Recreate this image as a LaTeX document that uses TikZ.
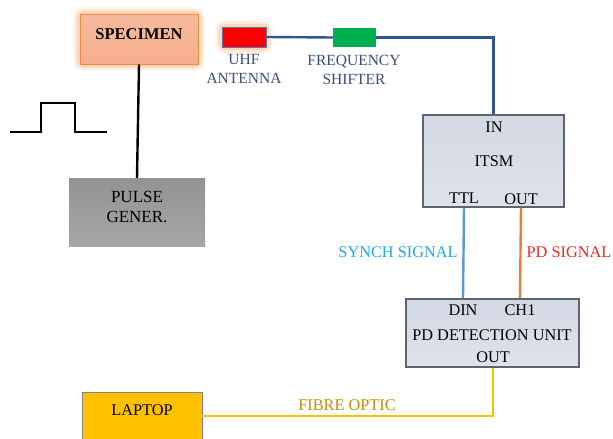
\documentclass[tikz,border=0pt]{standalone}
\usepackage{fontspec}
\setmainfont{Liberation Serif}
\usetikzlibrary{calc}
\definecolor{specfill}{HTML}{F5AE8C}
\definecolor{specedge}{HTML}{F08A3C}
\definecolor{glow}{HTML}{F9A35B}
\definecolor{navy}{HTML}{2F5597}
\definecolor{lblue}{HTML}{5B9BD5}
\definecolor{sorange}{HTML}{ED7D31}
\definecolor{syellow}{HTML}{FFC000}
\definecolor{antcol}{HTML}{3A4E7E}
\definecolor{synchc}{HTML}{1EAAE7}
\definecolor{pdc}{HTML}{F0281E}
\definecolor{fibrec}{HTML}{BF9000}
\definecolor{boxedge}{HTML}{5F6470}
\definecolor{unittop}{HTML}{D3D9E4}
\definecolor{unitmid}{HTML}{F1F3F7}
\definecolor{unitbot}{HTML}{DDE2EB}
\tikzset{
  lbl/.style={font=\fontsize{16.3}{18}\selectfont, text=black, inner sep=0pt},
  unit/.style={draw=boxedge, line width=1.6pt, inner sep=0pt, top color=unittop, middle color=unitmid, bottom color=unitbot},
  wire/.style={line width=2.4pt},
}
\begin{document}
\begin{tikzpicture}[x=1pt,y=-1pt]
\clip (0,0) rectangle (613,439);
\fill[white] (0,0) rectangle (613,439);
% glows
\foreach \w/\o in {14/0.10,10/0.15,6/0.25}{
  \draw[glow, line width=\w pt, opacity=\o, rounded corners=4pt] (80,14) rectangle (198,64);
  \draw[glow, line width=\w pt, opacity=\o, rounded corners=3pt] (222,27) rectangle (266,47);
}
% boxes
\node[draw=specedge, line width=1pt, minimum width=118pt, minimum height=50pt, inner sep=0pt,
      top color=specfill!85!white, bottom color=specfill] (spec) at (139,39) {};
\node[lbl, font=\fontsize{16.5}{18}\bfseries\selectfont] (spect) at (139,34) {SPECIMEN};
\node[minimum width=136pt, minimum height=68pt, inner sep=0pt, top color=gray!85, bottom color=gray!70] (pulse) at (137,212) {};
\node[lbl, align=center, font=\fontsize{17}{20}\selectfont] (pulset) at (137,207) {PULSE\\GENER.};
\node[draw=navy!80, line width=0.6pt, fill=red, minimum width=44pt, minimum height=20pt, inner sep=0pt] (ant) at (244,37) {};
\node[fill={rgb,255:red,0;green,176;blue,80}, minimum width=43pt, minimum height=19pt, inner sep=0pt] (shift) at (354.5,37.5) {};
\node[lbl, text=antcol, align=center, font=\fontsize{15.5}{19}\selectfont] (antt) at (244,69) {UHF\\ANTENNA};
\node[lbl, text=antcol, align=center, font=\fontsize{15.5}{19}\selectfont] (shiftt) at (354,70) {FREQUENCY\\SHIFTER};
\node[unit, minimum width=141pt, minimum height=92pt] (itsm) at (493.5,161) {};
\node[lbl] (in) at (494,127) {IN};
\node[lbl] (itsmt) at (494,161) {ITSM};
\node[lbl] (ttl) at (464,198) {TTL};
\node[lbl] (out1) at (521,199) {OUT};
\node[unit, minimum width=173pt, minimum height=68pt] (pd) at (492.5,333) {};
\node[lbl] (din) at (463,310) {DIN};
\node[lbl] (ch1) at (520,310) {CH1};
\node[lbl] (pdt) at (492,335) {PD DETECTION UNIT};
\node[lbl] (pdout) at (493,357) {OUT};
\node[draw=boxedge!80, line width=0.8pt, fill=syellow, minimum width=120pt, minimum height=48pt, inner sep=0pt] (lap) at (142,416) {};
\node[lbl] (lapt) at (142,410) {LAPTOP};
% wires
\draw[wire, black] (spec.south) -- (pulse.north);
\draw[wire, navy] (ant.east) -- (shift.west);
\draw[wire, navy] (shift.east) -| (itsm.north);
\draw[wire, lblue] (ttl |- itsm.south) -- (din |- pd.north);
\draw[wire, sorange] (out1 |- itsm.south) -- (ch1 |- pd.north);
\draw[wire, syellow] (pdout |- pd.south) |- (lap.east);
% signal labels
\node[lbl, text=synchc] (synch) at (398,252) {SYNCH SIGNAL};
\node[lbl, text=pdc] (pds) at (569,252) {PD SIGNAL};
\node[lbl, text=fibrec] (fibre) at (347,405) {FIBRE OPTIC};
% pulse waveform
\draw[black, line width=2.2pt] (10,132) -- (41,132) -- (41,103) -- (75,103) -- (75,132) -- (107,132);
\end{tikzpicture}
\end{document}
